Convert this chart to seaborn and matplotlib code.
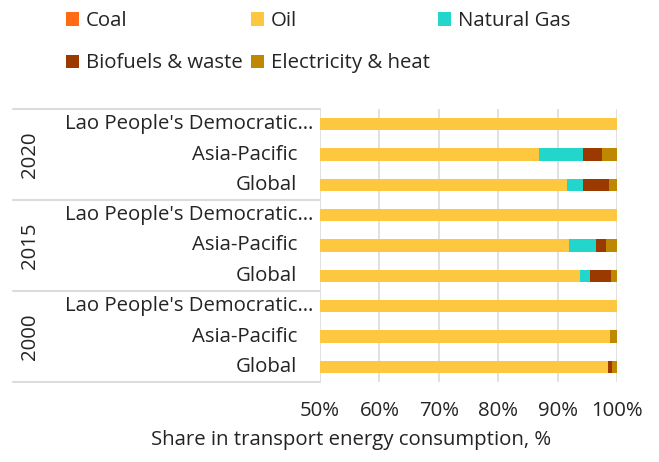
import matplotlib
matplotlib.use("Agg")
import matplotlib.pyplot as plt
import matplotlib.transforms as mtransforms
from matplotlib.patches import Patch
import pandas as pd
import seaborn as sns

# data (top row first)
years = ["2020", "2015", "2000"]
regions = ["Lao People's Democratic\u2026", "Asia-Pacific", "Global"]
coal = [0.0, 0.0, 0.0, 0.0, 0.0, 0.0, 0.0, 0.0, 0.0]
oil = [100.0, 86.9, 91.5, 100.0, 92.0, 93.7, 100.0, 98.8, 98.5]
gas = [0.0, 7.3, 2.7, 0.0, 4.5, 1.7, 0.0, 0.1, 0.0]
bio = [0.0, 3.2, 4.4, 0.0, 1.7, 3.6, 0.0, 0.0, 0.6]
elec = [0.0, 2.6, 1.4, 0.0, 1.8, 1.0, 0.0, 1.1, 0.9]
xticks = [50, 60, 70, 80, 90, 100]

series = ["Coal", "Oil", "Natural Gas", "Biofuels & waste", "Electricity & heat"]
colors = {"Coal": "#FF6A13", "Oil": "#FDC840", "Natural Gas": "#22D6CC",
          "Biofuels & waste": "#9B3A00", "Electricity & heat": "#BE8800"}
txt = "#252423"
grid = "#DCDCDC"
fs = 14.7

rows = [f"{y}|{r}" for y in years for r in regions]
df = pd.DataFrame({"row": rows, "Coal": coal, "Oil": oil, "Natural Gas": gas,
                   "Biofuels & waste": bio, "Electricity & heat": elec})
cum = df[series].cumsum(axis=1)
cum["row"] = df["row"]

sns.set_theme(style="white")
plt.rcParams['font.family'] = ['Open Sans', 'DejaVu Sans']

fig = plt.figure(figsize=(6.59, 4.62), dpi=100)
ax = fig.add_axes([320 / 659, 1 - 382 / 462, 297 / 659, 273 / 462])

# stacked bars: draw cumulative totals from the right-most segment down
for name in reversed(series):
    sns.barplot(data=cum, x=name, y="row", orient="h", color=colors[name],
                saturation=1, width=0.4, linewidth=0, ax=ax)

ax.set_xlim(50, 100)
ax.set_ylim(8.5, -0.5)
ax.set_xticks(xticks)
ax.set_xticklabels([f"{t}%" for t in xticks])
ax.set_yticks([])
ax.set_xlabel("")
ax.set_ylabel("")
ax.tick_params(axis="x", length=0, pad=14, labelsize=fs, labelcolor=txt)
for s in ax.spines.values():
    s.set_visible(False)
ax.xaxis.grid(True, color=grid, linewidth=1.2)
ax.set_axisbelow(True)

# hierarchical labels on the left
tr = mtransforms.blended_transform_factory(ax.transAxes, ax.transData)
x0 = (13 - 320) / 297
for yv in [-0.5, 2.5, 5.5, 8.5]:
    ax.plot([x0, 0], [yv, yv], transform=tr, color=grid, lw=1.5, clip_on=False)
for gi, yr in enumerate(years):
    ax.text((30 - 320) / 297, gi * 3 + 1, yr, transform=tr, rotation=90,
            ha="center", va="center", fontsize=fs, color=txt)
    for ri, reg in enumerate(regions):
        xr = (313 - 320) / 297 if ri == 0 else (297 - 320) / 297
        ax.text(xr, gi * 3 + ri, reg, transform=tr, ha="right", va="center",
                fontsize=fs, color=txt)

fig.text(351 / 659, 1 - 440 / 462, "Share in transport energy consumption, %",
         ha="center", va="center", fontsize=fs, color=txt)

order = ["Coal", "Biofuels & waste", "Oil", "Electricity & heat", "Natural Gas"]
handles = [Patch(facecolor=colors[n], edgecolor="none") for n in order]
fig.legend(handles, order, ncol=3, loc="upper left",
           bbox_to_anchor=(66 / 659, 1 - 11 / 462), frameon=False, borderpad=0,
           borderaxespad=0, fontsize=fs, labelcolor=txt, handlelength=0.64,
           handleheight=0.64, handletextpad=0.34, columnspacing=0.4,
           labelspacing=1.1)

fig.savefig("out.png", dpi=100)
